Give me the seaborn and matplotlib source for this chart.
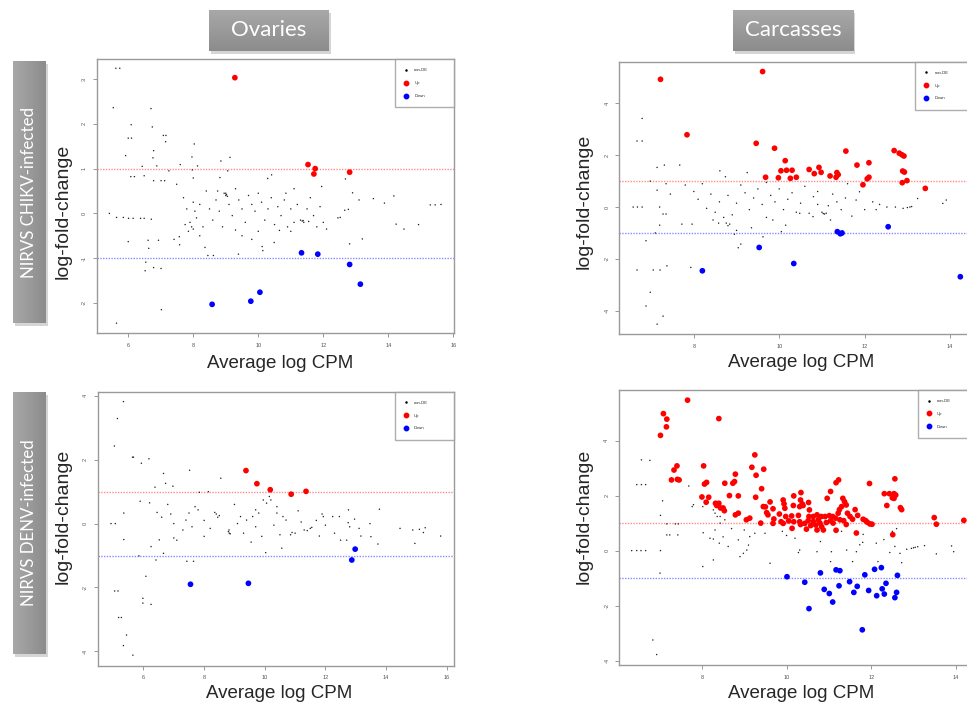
import numpy as np
import pandas as pd
import seaborn as sns
import matplotlib.pyplot as plt
from matplotlib.colors import LinearSegmentedColormap
from matplotlib.lines import Line2D
from matplotlib.patches import Rectangle

# ---- data: (average logCPM, logFC) ----
ov_chikv_up = [(9.28, 3.03), (11.53, 1.09), (11.75, 1.00), (11.71, 0.88), (12.81, 0.92)]
ov_chikv_down = [(11.33, -0.88), (11.83, -0.91), (12.81, -1.14), (13.14, -1.58),
                 (10.05, -1.76), (9.77, -1.96), (8.58, -2.03)]
ov_chikv_nonde = [
    (5.62, 3.24), (5.74, 3.24), (5.54, 2.36), (6.70, 2.34), (6.09, 1.98), (6.74, 1.93), (6.00, 1.68),
    (6.10, 1.68), (7.08, 1.74), (7.16, 1.74), (7.15, 1.60), (8.03, 1.55), (6.78, 1.40), (5.92, 1.29),
    (7.96, 1.26), (6.76, 1.24), (9.13, 1.25), (6.43, 1.05), (6.88, 1.06), (7.60, 1.09), (8.13, 1.06),
    (8.85, 1.17), (9.06, 0.95), (7.97, 0.97), (7.25, 0.95), (6.08, 0.82), (6.19, 0.82), (6.49, 0.84),
    (6.78, 0.73), (7.01, 0.73), (7.12, 0.73), (7.49, 0.65), (8.00, 0.79), (8.82, 0.80), (10.41, 0.86),
    (10.29, 0.78), (12.68, 0.77), (12.90, 0.46), (13.10, 0.30), (13.54, 0.33), (13.88, 0.23),
    (14.17, 0.39), (15.29, 0.19), (15.44, 0.19), (15.62, 0.20), (14.24, -0.24), (14.48, -0.35),
    (14.93, -0.25), (13.20, -0.57), (12.81, -0.68), (12.45, -0.10), (12.52, -0.09), (12.66, 0.07),
    (12.77, 0.09), (5.42, 0.00), (5.64, -0.09), (5.85, -0.09), (6.01, -0.11), (6.15, -0.11),
    (6.38, -0.11), (6.49, -0.11), (6.71, -0.13), (6.00, -0.63), (6.61, -0.60), (6.63, -0.78),
    (6.54, -1.09), (6.52, -1.28), (6.78, -1.21), (7.01, -1.23), (7.02, -2.15), (5.64, -2.45),
    (8.45, -0.94), (8.62, -0.94), (9.39, -0.91), (10.14, -0.83), (10.12, -0.74), (9.80, -0.58),
    (9.30, -0.37), (10.49, -0.65), (8.36, -0.76), (7.58, -0.70), (7.41, -0.58), (6.93, -0.60),
    (7.57, -0.52), (7.70, 0.35), (7.80, 0.10), (7.90, -0.20), (8.00, -0.35), (8.00, 0.25),
    (8.05, 0.05), (8.10, -0.10), (7.85, -0.40), (7.75, -0.25), (8.20, 0.20), (8.30, -0.30),
    (8.40, 0.50), (8.50, 0.10), (8.60, -0.15), (8.70, 0.30), (8.75, 0.50), (8.80, 0.05),
    (8.90, -0.30), (8.95, 0.45), (9.00, 0.40), (9.02, 0.42), (9.05, 0.38), (9.00, 0.45),
    (9.10, 0.20), (9.20, -0.05), (9.30, 0.55), (9.40, 0.30), (9.50, 0.10), (9.60, -0.20),
    (9.70, 0.40), (9.80, 0.20), (9.90, 0.05), (10.00, 0.45), (10.10, 0.25), (10.20, -0.15),
    (10.30, 0.10), (10.40, 0.35), (10.50, -0.25), (10.60, 0.15), (10.70, -0.05), (10.80, 0.30),
    (10.90, -0.30), (11.00, 0.10), (11.10, -0.20), (11.20, 0.20), (11.30, -0.15), (11.35, -0.17),
    (11.38, -0.16), (11.40, -0.20), (11.55, -0.18), (11.50, 0.10), (11.60, 0.35), (11.70, -0.05),
    (11.80, -0.30), (11.90, 0.15), (12.00, -0.20), (12.10, -0.35), (11.95, 0.60), (11.10, 0.55),
    (10.85, 0.45), (9.50, -0.50), (8.20, -0.50), (7.95, -0.30), (10.00, -0.40), (10.65, -0.38),
    (11.00, -0.40)]

ca_chikv_up = [
    (7.22, 4.93), (9.61, 5.23), (7.84, 2.79), (9.46, 2.46), (9.89, 2.27), (11.56, 2.16), (12.69, 2.18),
    (12.81, 2.08), (12.87, 2.02), (12.92, 1.97), (10.14, 1.79), (11.82, 1.62), (12.10, 1.71),
    (10.93, 1.53), (10.70, 1.45), (10.04, 1.40), (10.17, 1.42), (10.30, 1.42), (10.82, 1.29),
    (10.98, 1.34), (11.19, 1.20), (11.33, 1.15), (11.35, 1.33), (11.38, 1.25), (9.68, 1.15),
    (9.98, 1.13), (10.26, 1.11), (10.40, 1.15), (12.06, 1.09), (12.10, 1.15), (12.89, 1.39),
    (12.93, 1.35), (12.88, 0.94), (12.99, 1.02), (11.96, 0.86), (13.42, 0.72)]
ca_chikv_down = [(12.55, -0.76), (11.36, -0.95), (11.43, -1.03), (11.47, -1.00), (9.53, -1.56),
                 (10.34, -2.18), (8.20, -2.46), (14.24, -2.69)]
ca_chikv_nonde = [
    (6.79, 3.42), (6.67, 2.55), (6.79, 2.55), (7.14, 1.53), (7.31, 1.62), (7.67, 1.62), (6.58, 0.00),
    (6.68, 0.00), (6.79, 0.00), (6.98, 1.00), (7.14, 0.65), (7.35, 0.90), (7.45, 0.50), (7.20, 0.00),
    (7.28, -0.27), (7.35, -0.27), (7.20, -0.70), (6.88, -1.30), (7.10, -1.00), (6.67, -2.43),
    (7.05, -2.43), (7.21, -2.43), (7.37, -2.27), (6.98, -3.29), (6.88, -3.82), (7.28, -4.21),
    (7.14, -4.52), (7.93, -2.33), (9.04, -1.57), (9.10, -1.43), (9.62, -1.15), (7.72, -0.66),
    (7.96, -0.66), (8.45, -0.50), (8.58, -0.62), (8.76, -0.62), (8.80, -0.72), (8.84, -0.66),
    (8.70, -0.40), (8.90, -0.30), (8.50, -0.20), (8.30, -0.05), (8.10, 0.30), (8.00, 0.60),
    (7.80, 0.85), (8.20, 0.90), (8.61, 1.40), (8.74, 1.17), (9.25, 1.33), (8.40, 0.50), (8.60, 0.20),
    (8.80, 0.45), (9.00, 0.15), (9.10, 0.85), (9.20, 0.55), (9.30, -0.10), (9.40, 0.35), (9.50, 0.70),
    (9.60, 0.10), (9.70, -0.40), (9.85, -0.50), (9.80, 0.45), (9.90, 0.20), (10.00, 0.70),
    (10.10, -0.10), (10.20, 0.30), (10.30, 0.55), (10.40, -0.20), (10.48, -0.24), (10.50, 0.15),
    (10.60, 0.80), (10.70, -0.24), (10.79, -0.37), (10.80, 0.40), (10.90, 0.10), (11.00, -0.20),
    (11.03, -0.25), (11.06, -0.27), (11.10, -0.24), (11.15, 0.05), (11.25, 0.50), (11.35, 0.20),
    (11.45, -0.10), (11.55, 0.35), (11.60, 0.90), (11.70, -0.35), (11.80, 0.27), (11.88, 0.59),
    (12.00, -0.10), (12.19, 0.20), (12.27, -0.10), (12.35, 0.10), (12.52, 0.00), (12.72, 0.00),
    (12.90, -0.05), (13.00, -0.02), (13.06, 0.00), (13.10, 0.02), (13.24, 0.33), (13.83, 0.14),
    (13.91, 0.27), (9.00, -0.90), (8.95, -1.05), (9.35, -0.80), (10.05, -0.95), (10.15, -0.70),
    (11.20, -0.50), (10.90, 0.60), (9.70, 0.95)]

ov_denv_up = [(9.38, 1.66), (9.74, 1.25), (10.18, 1.06), (10.87, 0.92), (11.36, 1.01)]
ov_denv_down = [(12.98, -0.80), (12.87, -1.14), (7.55, -1.90), (9.46, -1.87)]
ov_denv_nonde = [
    (5.34, 3.82), (5.14, 3.29), (5.04, 2.43), (5.64, 2.08), (5.67, 2.08), (6.18, 2.03), (5.93, 1.89),
    (7.52, 1.67), (6.66, 1.57), (8.55, 1.42), (6.38, 1.14), (6.73, 1.26), (6.97, 1.17), (7.84, 0.98),
    (8.14, 1.00), (5.89, 0.70), (4.93, 0.00), (5.07, 0.00), (5.35, 0.33), (5.35, -0.50), (5.85, -1.01),
    (6.08, -1.65), (5.05, -2.11), (5.16, -2.11), (5.98, -2.34), (5.98, -2.49), (6.25, -2.53),
    (5.18, -2.94), (5.27, -2.94), (5.44, -3.49), (5.34, -3.82), (5.65, -4.12), (6.41, -1.14),
    (7.43, -1.18), (7.65, -1.18), (6.66, -0.93), (6.25, -0.72), (6.52, -0.51), (7.00, -0.45),
    (7.10, -0.52), (13.78, 0.45), (13.47, 0.00), (13.73, -0.64), (14.46, -0.15), (14.88, -0.20),
    (15.10, -0.18), (15.23, -0.28), (15.29, -0.13), (14.95, -0.62), (15.80, -0.39), (12.76, 0.43),
    (12.96, 0.14), (13.11, -0.15), (13.17, -0.39), (13.50, -0.41), (11.89, 0.30), (11.93, 0.22),
    (12.24, 0.22), (12.46, 0.22), (12.75, 0.03), (12.80, -0.10), (12.30, -0.30), (12.50, -0.52),
    (12.70, -0.52), (11.80, -0.39), (11.30, -0.20), (11.40, -0.22), (11.50, -0.15), (11.55, -0.12),
    (10.90, -0.28), (11.00, -0.30), (10.85, -0.35), (8.80, -0.25), (8.83, -0.30), (8.86, -0.32),
    (8.82, -0.20), (8.40, 0.30), (8.45, 0.20), (8.35, 0.35), (8.50, 0.25), (10.56, -0.77),
    (10.03, -0.91), (9.55, -0.58), (9.90, -0.40), (10.15, 0.85), (10.20, 0.74), (10.06, 0.64),
    (9.95, 0.74), (10.40, 0.53), (10.40, 0.33), (10.60, 0.22), (10.70, 0.11), (9.70, 0.43),
    (9.80, 0.33), (9.60, 0.22), (9.20, 0.22), (9.40, 0.11), (9.10, 0.00), (7.70, 0.53), (7.80, 0.43),
    (7.50, 0.33), (7.40, 0.11), (7.00, 0.00), (6.90, 0.30), (7.30, -0.20), (7.60, -0.10), (8.00, 0.10),
    (8.20, -0.15), (8.00, -0.40), (9.00, 0.60), (9.30, -0.30), (9.70, -0.10), (10.30, -0.05),
    (10.50, -0.35), (11.10, 0.40), (11.20, 0.05), (11.70, 0.10), (12.00, -0.05), (6.80, 0.60),
    (6.60, 0.20), (6.45, 0.35), (6.20, 0.65)]

ca_denv_up = [
    (7.66, 5.47), (7.09, 4.98), (7.17, 4.78), (7.16, 4.50), (7.02, 4.19), (8.40, 4.80), (9.25, 3.48),
    (8.04, 3.08), (7.41, 3.08), (7.34, 2.93), (9.18, 3.03), (9.46, 2.96), (9.28, 2.74), (7.28, 2.57),
    (7.42, 2.59), (7.46, 2.57), (8.79, 2.78), (11.23, 2.57), (11.17, 2.47), (12.56, 2.61), (8.06, 2.42),
    (8.11, 2.48), (8.54, 2.45), (8.73, 2.45), (8.77, 2.51), (11.96, 2.44), (9.41, 2.25), (10.34, 2.11),
    (11.04, 2.15), (8.65, 2.00), (8.86, 1.99), (8.00, 1.95), (8.16, 1.94), (10.17, 1.99), (12.31, 2.07),
    (12.43, 2.07), (12.54, 2.07), (12.58, 2.02), (10.96, 1.90), (12.50, 1.92), (12.54, 1.90),
    (9.27, 1.94), (9.92, 1.84), (9.94, 1.70), (9.96, 1.54), (9.61, 1.77), (10.33, 1.84), (10.37, 1.70),
    (10.31, 1.60), (10.39, 1.64), (10.52, 1.75), (11.33, 1.90), (11.37, 1.78), (11.41, 1.66),
    (11.30, 1.60), (8.10, 1.76), (8.32, 1.72), (8.40, 1.72), (8.35, 1.64), (8.44, 1.55), (8.50, 1.55),
    (8.53, 1.45), (10.16, 1.64), (9.45, 1.60), (9.50, 1.59), (12.37, 1.64), (12.69, 1.56),
    (12.72, 1.49), (11.62, 1.49), (9.68, 1.52), (11.25, 1.49), (11.22, 1.36), (10.54, 1.48),
    (10.53, 1.24), (9.53, 1.38), (9.56, 1.30), (9.83, 1.33), (9.98, 1.24), (10.12, 1.26), (10.28, 1.28),
    (11.68, 1.28), (11.44, 1.36), (11.50, 1.24), (11.56, 1.14), (8.79, 1.30), (8.86, 1.36),
    (10.63, 1.24), (10.72, 1.30), (10.82, 1.24), (10.91, 1.24), (11.01, 1.27), (11.09, 1.24),
    (11.16, 1.18), (11.26, 1.12), (11.35, 1.09), (10.63, 1.06), (10.75, 1.12), (10.79, 1.00),
    (10.94, 1.02), (11.04, 1.08), (11.10, 1.00), (9.70, 1.15), (9.68, 0.99), (9.87, 1.05), (9.92, 0.99),
    (10.05, 1.08), (10.17, 1.05), (11.81, 1.14), (11.87, 1.09), (11.91, 1.03), (11.97, 0.97),
    (12.02, 0.96), (9.05, 1.12), (9.13, 1.18), (10.31, 1.05), (10.43, 0.99), (10.51, 1.09),
    (10.57, 0.91), (10.69, 0.93), (10.72, 0.75), (10.83, 0.87), (10.87, 0.75), (9.39, 1.00),
    (10.33, 0.95), (10.13, 0.81), (10.47, 0.78), (11.17, 0.74), (11.41, 0.95), (11.65, 0.64),
    (12.51, 0.58), (13.49, 1.20), (13.54, 0.96), (14.19, 1.10)]
ca_denv_down = [
    (10.01, -0.95), (10.43, -1.15), (10.53, -2.11), (10.80, -0.81), (10.89, -1.41), (11.01, -1.56),
    (11.09, -1.87), (11.17, -0.70), (11.26, -0.73), (11.24, -1.28), (11.49, -1.13), (11.59, -1.52),
    (11.67, -1.30), (11.79, -2.88), (11.85, -0.88), (11.94, -1.45), (12.08, -0.68), (12.13, -1.64),
    (12.24, -0.62), (12.26, -1.39), (12.31, -1.58), (12.35, -1.19), (12.56, -1.71), (12.60, -1.52),
    (12.62, -0.90)]
ca_denv_nonde = [
    (6.57, 3.30), (6.77, 3.28), (6.46, 2.40), (6.57, 2.40), (6.67, 2.40), (7.69, 2.35), (7.07, 1.81),
    (7.02, 1.28), (7.17, 0.97), (7.37, 0.97), (7.44, 0.97), (7.17, 0.57), (7.24, 0.57), (7.43, 0.57),
    (6.34, 0.00), (6.46, 0.00), (6.56, 0.00), (6.67, 0.00), (7.02, 0.00), (7.01, -0.82), (6.84, -3.25),
    (6.93, -3.78), (7.77, 1.60), (7.80, 1.67), (8.02, 1.60), (8.27, 1.48), (8.31, 1.36), (8.36, 1.24),
    (8.43, 1.24), (8.54, 1.12), (8.43, 1.00), (8.03, 0.65), (8.19, 0.45), (8.27, 0.42), (8.41, 0.27),
    (8.31, 0.75), (8.62, 0.15), (8.90, -0.22), (8.98, -0.10), (9.06, 0.02), (9.10, 0.20), (8.86, 0.39),
    (9.13, 0.51), (9.25, 0.63), (9.49, 0.63), (9.61, -0.46), (8.02, -0.58), (8.27, -0.34),
    (10.31, 0.02), (10.28, -0.07), (10.80, 0.33), (10.72, -0.04), (11.04, -0.40), (11.06, -0.04),
    (11.42, 0.02), (11.56, -0.40), (11.65, -0.04), (11.73, 0.21), (11.81, 0.59), (12.16, -0.40),
    (12.12, 0.27), (12.44, -0.07), (12.56, 0.15), (12.68, -0.10), (12.72, -0.44), (12.84, 0.05),
    (12.95, 0.08), (13.00, 0.10), (13.04, 0.12), (13.10, 0.14), (13.26, 0.18), (13.54, -0.12),
    (13.90, 0.17), (13.95, -0.04), (8.70, 0.80), (8.50, 0.50), (9.35, 1.00), (9.00, 0.75), (9.90, 0.70),
    (10.00, 0.55), (10.20, 0.45), (11.30, 0.70), (11.80, 0.30), (12.30, 0.40), (12.50, 0.70),
    (12.60, 0.80)]

status_labels = ["non-DE", "Up", "Down"]
x_ticks_ov = [6, 8, 10, 12, 14, 16]
x_ticks_ca = [8, 10, 12, 14]

W, H = 967, 707
sns.set_style("white")
plt.rcParams["font.family"] = ["Liberation Sans", "DejaVu Sans"]

fig = plt.figure(figsize=(W / 100, H / 100), dpi=100)


def px_axes(left, top, right, bottom):
    return fig.add_axes([left / W, 1 - bottom / H, (right - left) / W, (bottom - top) / H])


def to_df(nonde, up, down):
    frames = []
    for lab, pts in zip(status_labels, [nonde, up, down]):
        d = pd.DataFrame(pts, columns=["logCPM", "logFC"])
        d["status"] = lab
        frames.append(d)
    return pd.concat(frames, ignore_index=True)


def ma_plot(box, data, xlim, ylim, xticks, yticks, ylab_xy, xlab_xy, leg_left):
    ax = px_axes(*box)
    df = to_df(*data)
    sns.scatterplot(data=df, x="logCPM", y="logFC", hue="status", size="status",
                    sizes={"non-DE": 1.1, "Up": 17, "Down": 17},
                    palette={"non-DE": "#222222", "Up": "red", "Down": "blue"},
                    linewidth=0, legend=False, ax=ax)
    ax.axhline(1, color="#ff8c8c", ls=(0, (1, 1)), lw=1.0, zorder=0)
    ax.axhline(-1, color="#8c8cff", ls=(0, (1, 1)), lw=1.0, zorder=0)
    ax.set_xlim(*xlim)
    ax.set_ylim(*ylim)
    ax.set_xticks(xticks)
    ax.set_xticklabels([str(t) for t in xticks])
    ax.set_yticks(yticks)
    ax.set_yticklabels([str(t) for t in yticks], rotation=90, va="center")
    ax.tick_params(length=3, width=0.6, color="#888888", labelsize=4,
                   labelcolor="#555555", pad=4, left=True, bottom=True)
    for s in ax.spines.values():
        s.set_color("#9a9a9a")
        s.set_linewidth(1.0)
    ax.set_ylabel("log-fold-change", fontsize=14, va="center")
    ax.yaxis.set_label_coords(*ylab_xy)
    ax.set_xlabel("Average log CPM", fontsize=13.5, va="center")
    ax.xaxis.set_label_coords(*xlab_xy)
    handles = [Line2D([], [], marker="o", ls="", color="black", markersize=0.8),
               Line2D([], [], marker="o", ls="", color="red", markersize=3.2),
               Line2D([], [], marker="o", ls="", color="blue", markersize=3.2)]
    leg = ax.legend(handles, status_labels, loc="upper left",
                    bbox_to_anchor=(leg_left, 0, 1 - leg_left, 1), mode="expand",
                    fontsize=3, frameon=True, fancybox=False, edgecolor="#9a9a9a",
                    borderpad=2.2, labelspacing=2.1, handlelength=0.8,
                    handletextpad=1.6, borderaxespad=0)
    leg.get_frame().set_linewidth(1.0)
    return ax


ma_plot((96.7, 59.3, 454, 333), (ov_chikv_nonde, ov_chikv_up, ov_chikv_down),
        (5.03, 16.02), (-2.67, 3.44), x_ticks_ov, [-2, -1, 0, 1, 2, 3],
        (-0.093, 0.446), (0.513, -0.11), 0.835)
ma_plot((619.3, 61.7, 975.7, 334), (ca_chikv_nonde, ca_chikv_up, ca_chikv_down),
        (6.255, 14.6), (-4.90, 5.61), x_ticks_ca, [-4, -2, 0, 2, 4],
        (-0.099, 0.488), (0.511, -0.106), 0.830)
ma_plot((97.7, 391.7, 454, 665.7), (ov_denv_nonde, ov_denv_up, ov_denv_down),
        (4.49, 16.24), (-4.45, 4.13), x_ticks_ov, [-4, -2, 0, 2, 4],
        (-0.096, 0.544), (0.510, -0.103), 0.834)
ma_plot((619, 390, 981.2, 665), (ca_denv_nonde, ca_denv_up, ca_denv_down),
        (6.04, 14.6), (-4.16, 5.84), x_ticks_ca, [-4, -2, 0, 2, 4],
        (-0.097, 0.539), (0.504, -0.105), 0.825)


# ---- grey header boxes (PowerPoint style) ----
def label_box(left, top, right, bottom, text, vertical=False):
    # soft shadow sits behind the box (zorder below the axes)
    fig.patches.append(Rectangle(((left + 2) / W, 1 - (bottom + 3) / H), (right - left) / W,
                                 (bottom - top) / H, transform=fig.transFigure,
                                 facecolor="#c4c4c4", edgecolor="none", alpha=0.7, zorder=-1))
    bax = px_axes(left, top, right, bottom)
    cmap = LinearSegmentedColormap.from_list("box", ["#a8a8a8", "#8c8c8c"])
    grad = np.linspace(0, 1, 100)
    grad = grad.reshape(1, -1) if vertical else grad.reshape(-1, 1)
    bax.imshow(grad, cmap=cmap, aspect="auto", extent=[0, 1, 0, 1], origin="upper")
    bax.set_axis_off()
    bax.text(0.5, 0.5, text, color="white", ha="center", va="center",
             fontsize=12.2 if vertical else 16, rotation=90 if vertical else 0,
             family=["Lato", "DejaVu Sans"], transform=bax.transAxes)


label_box(209, 10, 329, 51, "Ovaries")
label_box(733, 10, 853, 51, "Carcasses")
label_box(13, 61, 46, 323, "NIRVS CHIKV-infected", vertical=True)
label_box(13, 392, 46, 654, "NIRVS DENV-infected", vertical=True)

fig.savefig("out.png", dpi=100)
